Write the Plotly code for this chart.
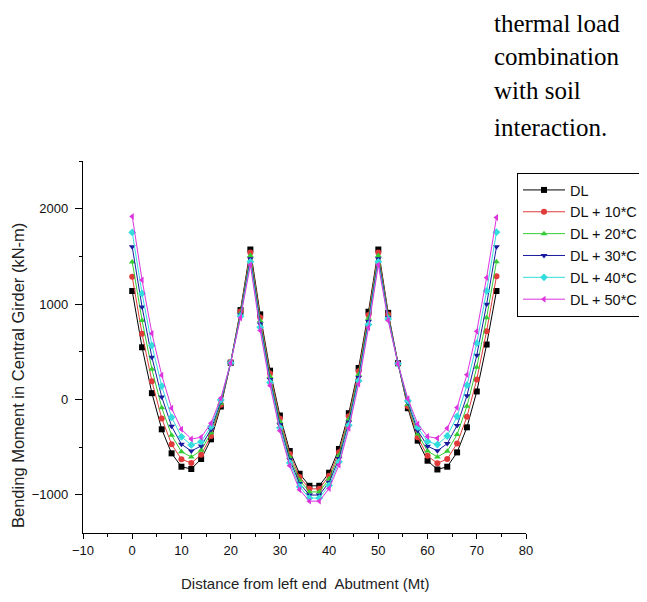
import plotly.graph_objects as go

# Distance from left end abutment (m)
x_dist = [0, 2, 4, 6, 8, 10, 12, 14, 16, 18, 20, 22, 24, 26, 28, 30, 32, 34, 36,
          38, 40, 42, 44, 46, 48, 50, 52, 54, 56, 58, 60, 62, 64, 66, 68, 70, 72, 74]

series_names = ["DL", "DL + 10*C", "DL + 20*C", "DL + 30*C", "DL + 40*C", "DL + 50*C"]

dl = [1137, 547, 66, -313, -565, -705, -729, -624, -418, -74, 385, 937, 1572, 892, 302, -168, -540, -779, -905,
      -905, -768, -519, -144, 330, 920, 1572, 908, 380, -92, -432, -642, -734, -705, -555, -292, 84, 576, 1137]
dl10 = [1287, 688, 191, -200, -470, -627, -666, -579, -384, -56, 392, 921, 1540, 858, 271, -200, -571, -813, -937,
        -937, -801, -553, -176, 296, 886, 1540, 892, 378, -72, -397, -591, -669, -624, -461, -182, 210, 716, 1291]
dl20 = [1442, 829, 316, -87, -376, -548, -603, -533, -350, -39, 390, 905, 1508, 824, 240, -232, -602, -846, -969,
        -969, -834, -586, -207, 262, 852, 1508, 876, 377, -52, -362, -541, -603, -544, -367, -71, 337, 856, 1445]
dl30 = [1600, 970, 442, 26, -281, -470, -540, -488, -316, -21, 387, 888, 1475, 791, 209, -265, -633, -880, -1002,
        -1002, -868, -620, -239, 229, 818, 1475, 860, 375, -33, -326, -490, -538, -463, -272, 39, 463, 997, 1600]
dl40 = [1751, 1112, 567, 140, -187, -392, -477, -443, -283, -4, 385, 872, 1443, 757, 178, -297, -664, -914, -1034,
        -1034, -901, -654, -271, 195, 785, 1443, 844, 374, -13, -291, -440, -472, -383, -178, 150, 590, 1137, 1754]
dl50 = [1919, 1253, 692, 253, -92, -313, -414, -397, -249, 14, 382, 856, 1410, 723, 147, -329, -695, -947, -1066,
        -1066, -934, -687, -302, 161, 751, 1410, 828, 372, 7, -256, -389, -407, -302, -84, 260, 716, 1277, 1908]

x_ticks = [-10, 0, 10, 20, 30, 40, 50, 60, 70, 80]
y_ticks = [-1000, 0, 1000, 2000]

colors = ["#000000", "#e03a3a", "#33cc33", "#1a1a9e", "#33dddd", "#dd33dd"]
symbols = ["square", "circle", "triangle-up", "triangle-down", "diamond", "triangle-left"]

fig = go.Figure()
for name, ys, c, s in zip(series_names, [dl, dl10, dl20, dl30, dl40, dl50], colors, symbols):
    fig.add_trace(go.Scatter(
        x=x_dist, y=ys, name=name, mode="lines+markers",
        line=dict(color=c, width=1),
        marker=dict(color=c, symbol=s, size=6),
    ))

axis_font = dict(family="Liberation Sans, Arial, sans-serif", size=13, color="#111")

# plot area geometry (px)
L, T, R, B = 75, 153, 129, 77
PW = 647 - L - R
PH = 602 - T - B


def px_x(px):
    return (px - L) / PW


def px_y(py):
    return (602 - B - py) / PH


serif = dict(family="Liberation Serif, Times New Roman, serif", size=25, color="black")
side_text = ["thermal load", "combination", "with soil", "interaction."]
side_y = [15, 48, 83, 119]

annotations = [
    dict(text="Distance from left end  Abutment (Mt)", xref="paper", yref="paper",
         x=0.5, y=px_y(575), xanchor="center", yanchor="middle", showarrow=False,
         font=dict(family="Liberation Sans, Arial, sans-serif", size=15, color="#222")),
    dict(text="Bending Moment in Central Girder (kN-m)", xref="paper", yref="paper",
         x=px_x(10), y=px_y(368), xanchor="center", yanchor="middle", showarrow=False, textangle=-90,
         font=dict(family="Liberation Sans, Arial, sans-serif", size=16.5, color="#222")),
]
for t, yy in zip(side_text, side_y):
    annotations.append(dict(text=t, xref="paper", yref="paper", x=px_x(484), y=px_y(yy),
                            xanchor="left", yanchor="middle", showarrow=False, font=serif))

fig.update_layout(
    width=647, height=602,
    margin=dict(l=L, r=R, t=T, b=B, autoexpand=False),
    paper_bgcolor="white", plot_bgcolor="white",
    font=dict(family="Liberation Sans, Arial, sans-serif"),
    showlegend=True,
    legend=dict(
        x=px_x(509), y=px_y(165), xanchor="left", yanchor="top",
        bgcolor="white", bordercolor="black", borderwidth=1,
        font=dict(family="Liberation Sans, Arial, sans-serif", size=14.5, color="#111"),
        tracegroupgap=0, itemwidth=42,
    ),
    xaxis=dict(
        range=[-10, 80], tickvals=x_ticks, showgrid=False, zeroline=False,
        showline=True, linecolor="black", linewidth=1.3,
        ticks="outside", ticklen=5, tickcolor="black",
        minor=dict(dtick=5, tick0=0, ticks="outside", ticklen=3, tickcolor="black"),
        tickfont=axis_font,
    ),
    yaxis=dict(
        range=[-1400, 2500], tickvals=y_ticks, showgrid=False, zeroline=False,
        showline=True, linecolor="black", linewidth=1.3,
        ticks="outside", ticklen=7, tickcolor="black",
        minor=dict(dtick=500, tick0=0, ticks="outside", ticklen=3, tickcolor="black"),
        tickfont=axis_font, ticklabelstandoff=4,
    ),
    annotations=annotations,
)

fig.write_html("out.html")
